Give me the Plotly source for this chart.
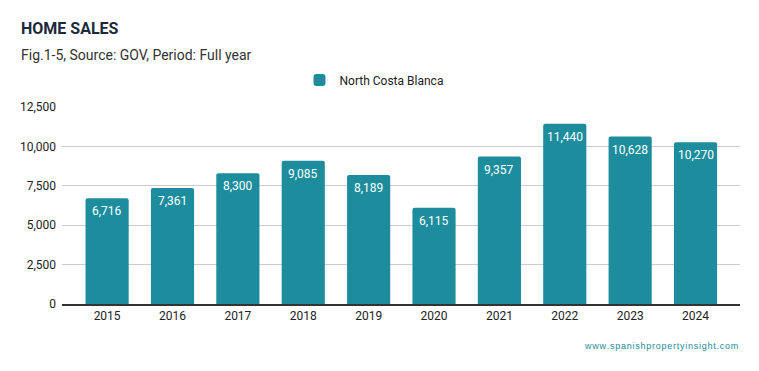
import plotly.graph_objects as go

years = ["2015", "2016", "2017", "2018", "2019", "2020", "2021", "2022", "2023", "2024"]
sales = [6716, 7361, 8300, 9085, 8189, 6115, 9357, 11440, 10628, 10270]
series_name = "North Costa Blanca"
y_ticks = [0, 2500, 5000, 7500, 10000, 12500]

teal = "#1d8d9e"

# page body has an 8px default margin: compensate in figure size/margins
W, H = 743, 355
L, T = 54, 99
PW, PH = 678, 197
R, B = W - L - PW, H - T - PH

def px_to_paper_x(px):
    return (px - 8 - L) / PW

def px_to_paper_y(py):
    return 1 - (py - 8 - T) / PH

fig = go.Figure()
fig.add_trace(go.Bar(
    x=years, y=sales, name=series_name,
    marker=dict(color=teal, line=dict(width=0)),
    showlegend=True,
))

# value labels just inside the top of each bar (category index on a category axis)
for i, v in enumerate(sales):
    fig.add_annotation(x=i, y=v, xref="x", yref="y", text=f"{v:,}", showarrow=False,
                       yanchor="top", yshift=-4,
                       font=dict(color="white", size=12, family="Roboto"))

fig.update_layout(
    width=W, height=H,
    margin=dict(l=L, r=R, t=T, b=B, autoexpand=False),
    paper_bgcolor="white", plot_bgcolor="white",
    font=dict(family="Roboto", size=12, color="#222"),
    bargap=0.34,
    barcornerradius=2,
    showlegend=True,
    legend=dict(orientation="h", x=px_to_paper_x(374), xanchor="center",
                y=px_to_paper_y(80), yanchor="middle",
                font=dict(size=12, color="#222")),
    xaxis=dict(type="category", range=[-0.69, 9.68], showgrid=False,
               showline=True, linecolor="#333", linewidth=1.5, ticks="",
               tickfont=dict(size=12, color="#222")),
    yaxis=dict(range=[0, 12500], tickvals=y_ticks, tickformat=",",
               showgrid=True, gridcolor="#cccccc", gridwidth=1,
               zeroline=False, showline=False, ticks="", ticklabelstandoff=5,
               tickfont=dict(size=12, color="#222")),
)

fig.add_annotation(text="<b>HOME SALES</b>", xref="paper", yref="paper",
                   x=px_to_paper_x(19), y=px_to_paper_y(28), xanchor="left", yanchor="middle",
                   showarrow=False, font=dict(size=16, color="#1b2a3a", family="Roboto"))
fig.add_annotation(text="Fig.1-5, Source: GOV, Period: Full year", xref="paper", yref="paper",
                   x=px_to_paper_x(19), y=px_to_paper_y(55), xanchor="left", yanchor="middle",
                   showarrow=False, font=dict(size=14, color="#333", family="Roboto"))
fig.add_annotation(text="\u200a".join("www.spanishpropertyinsight.com"),
                   xref="paper", yref="paper",
                   x=px_to_paper_x(740), y=px_to_paper_y(346), xanchor="right", yanchor="middle",
                   showarrow=False, font=dict(size=9, color="#1d8d9e", family="Liberation Sans"))

fig.write_html("out.html")
